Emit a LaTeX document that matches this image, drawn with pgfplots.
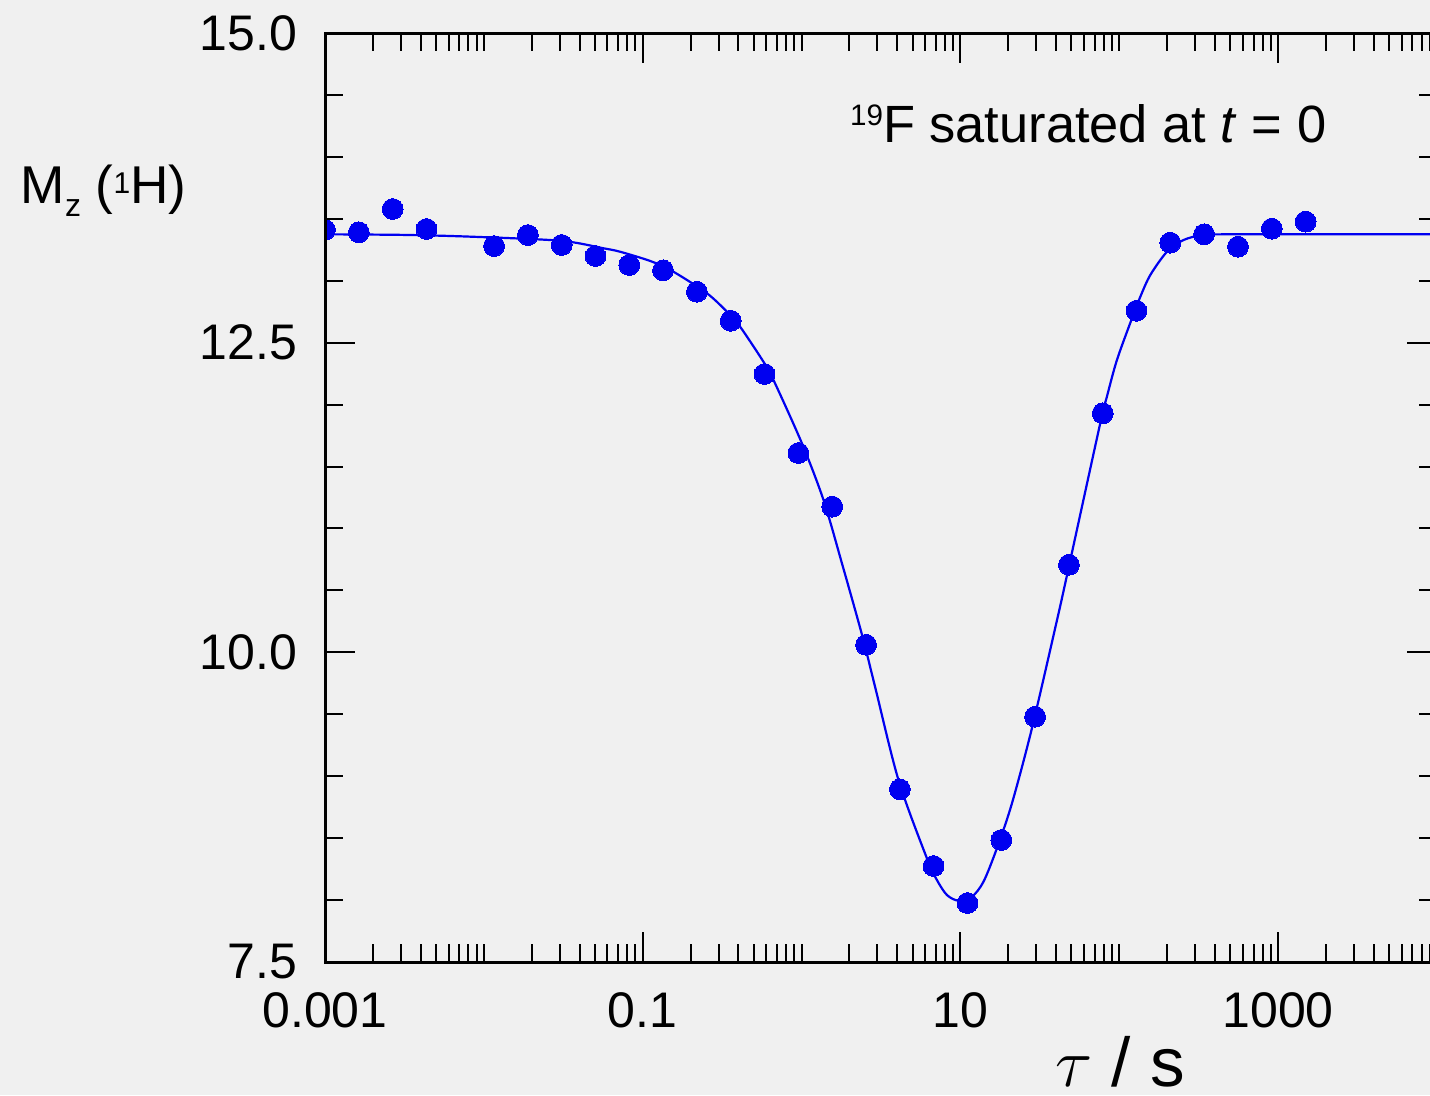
\documentclass[border=0pt]{standalone}
\usepackage{fontspec}
\setmainfont{Liberation Sans}
\usepackage{pgfplots}
\pgfplotsset{compat=1.18}
\definecolor{bg}{RGB}{240,240,240}
\definecolor{ptblue}{RGB}{0,0,240}
\newcommand{\sups}[3]{\raisebox{#2}{\fontsize{#1}{#1}\selectfont #3}}
% x values are log10(tau / s)
\pgfplotstableread{
lx y
-3.000 13.410
-2.787 13.391
-2.574 13.579
-2.361 13.418
-1.936 13.280
-1.723 13.369
-1.510 13.289
-1.297 13.200
-1.085 13.127
-0.872 13.084
-0.659 12.911
-0.446 12.677
-0.233 12.247
-0.020 11.609
0.193 11.176
0.406 10.061
0.619 8.894
0.831 8.275
1.044 7.976
1.257 8.485
1.470 9.480
1.683 10.707
1.896 11.930
2.108 12.758
2.321 13.307
2.534 13.375
2.747 13.275
2.960 13.420
3.173 13.477
}\datapts
\pgfplotstableread{
lx y
-3.000 13.375
-2.500 13.370
-2.087 13.356
-1.520 13.323
-1.247 13.262
-1.142 13.234
-0.945 13.156
-0.807 13.073
-0.596 12.899
-0.470 12.750
-0.387 12.629
-0.240 12.346
-0.177 12.199
0.002 11.688
0.138 11.230
0.254 10.719
0.382 10.134
0.463 9.720
0.610 8.969
0.789 8.337
0.852 8.162
0.915 8.041
0.988 7.995
1.072 8.027
1.145 8.148
1.230 8.420
1.324 8.780
1.450 9.387
1.608 10.261
1.671 10.624
1.880 11.849
1.922 12.064
1.985 12.360
2.080 12.697
2.132 12.870
2.195 13.046
2.300 13.234
2.405 13.329
2.531 13.369
2.762 13.375
4.000 13.375
}\fitcurve
\begin{document}
\begin{tikzpicture}
\fill[bg] (-81.25pt,-33.25pt) rectangle (276.25pt,240.5pt);
\begin{axis}[
  at={(0,0)}, anchor=south west,
  scale only axis, width=278pt, height=232.25pt,
  xmin=-3, xmax=4, ymin=7.5, ymax=15,
  xtick={-3,-1,1,3}, xticklabels={0.001,0.1,10,1000},
  minor xtick={-2.69897,-2.52288,-2.39794,-2.30103,-2.22185,-2.15490,-2.09691,-2.04576,-2,
    -1.69897,-1.52288,-1.39794,-1.30103,-1.22185,-1.15490,-1.09691,-1.04576,
    -0.69897,-0.52288,-0.39794,-0.30103,-0.22185,-0.15490,-0.09691,-0.04576,0,
    0.30103,0.47712,0.60206,0.69897,0.77815,0.84510,0.90309,0.95424,
    1.30103,1.47712,1.60206,1.69897,1.77815,1.84510,1.90309,1.95424,2,
    2.30103,2.47712,2.60206,2.69897,2.77815,2.84510,2.90309,2.95424,
    3.30103,3.47712,3.60206,3.69897,3.77815,3.84510,3.90309,3.95424},
  ytick={7.5,10,12.5,15}, yticklabels={7.5,10.0,12.5,15.0},
  minor ytick={8,8.5,9,9.5,10.5,11,11.5,12,13,13.5,14,14.5},
  tick align=inside,
  major tick length=7.5pt, minor tick length=4.5pt,
  every tick/.style={black, line width=0.5pt},
  axis line style={black, line width=0.75pt},
  tick label style={font=\fontsize{12.5}{15}\selectfont, inner sep=0pt},
  xticklabel style={anchor=north, yshift=-7.5pt},
  yticklabel style={anchor=east, xshift=-6.75pt},
  clip marker paths=true,
  axis on top,
]
\addplot[ptblue, line width=0.55pt, smooth, tension=0.5, no marks] table[x=lx, y=y] {\fitcurve};
\addplot[ptblue, only marks, mark=*, mark size=2.6pt, mark options={solid, fill=ptblue, draw=ptblue, line width=0pt}] table[x=lx, y=y] {\datapts};
\end{axis}
\node[anchor=base west, font=\fontsize{13.3}{16}\selectfont, inner sep=0pt] at (-76.25pt,189.75pt) {M\raisebox{-3.35pt}{\fontsize{8}{8}\selectfont z} (\sups{7.5}{2.5pt}{1}H)};
\node[anchor=base east, font=\fontsize{13.1}{16}\selectfont, inner sep=0pt] at (250.5pt,205pt) {\sups{7.4}{4.25pt}{19}F saturated at \textit{t} = 0};
\node[anchor=base, font=\fontsize{17.3}{20}\selectfont, inner sep=0pt] at (198.75pt,-31pt) {$\tau$ / s};
\pgfresetboundingbox
\useasboundingbox (-81.25pt,-33.25pt) rectangle (276.25pt,240.5pt);
\end{tikzpicture}
\end{document}
